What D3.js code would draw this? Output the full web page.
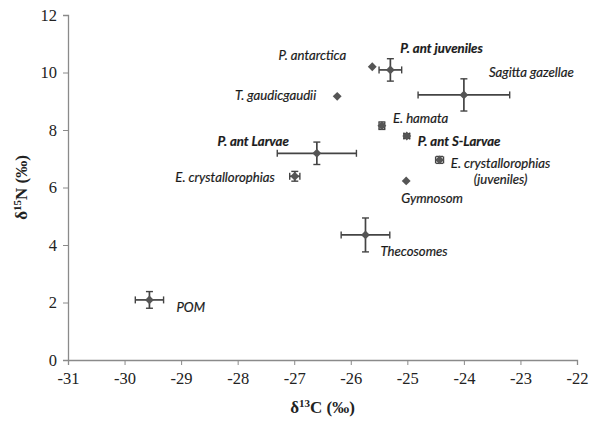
<!DOCTYPE html>
<html>
<head>
<meta charset="utf-8">
<script src="https://cdn.jsdelivr.net/npm/d3@7"></script>
<style>
  body { margin: 0; background: #fff; }
  svg { display: block; }
</style>
</head>
<body>
<div id="chart"></div>
<script>
// taxa + isotope means / SD
const names = ["POM", "Thecosomes", "Sagitta gazellae", "P.  ant juveniles", "P. antarctica",
  "T. gaudicgaudii", "E. hamata", "P. ant S-Larvae", "E. crystallorophias (juveniles)",
  "Gymnosom", "P. ant Larvae", "E. crystallorophias"]
const d13C = [-29.56, -25.74, -24.0, -25.30, -25.62, -26.24, -25.45, -25.01, -24.43, -25.02, -26.60, -26.99]
const d15N = [2.09, 4.35, 9.22, 10.09, 10.2, 9.17, 8.15, 7.79, 6.96, 6.23, 7.19, 6.39]
const sdC = [0.25, 0.43, 0.81, 0.20, 0, 0, 0.05, 0.05, 0.07, 0, 0.70, 0.09]
const sdN = [0.29, 0.59, 0.56, 0.39, 0, 0, 0.13, 0.08, 0.12, 0, 0.39, 0.17]
const boldLabel = [false, false, false, true, false, false, false, true, false, false, true, false]

const xTicks = [-31, -30, -29, -28, -27, -26, -25, -24, -23, -22]
const yTicks = [0, 2, 4, 6, 8, 10, 12]

// label placement relative to the marker (px)
const labelPos = {
  "POM": {dx: 27, dy: 12, anchor: "start"},
  "Thecosomes": {dx: 15, dy: 21, anchor: "start"},
  "Sagitta gazellae": {dx: 25, dy: -18, anchor: "start"},
  "P.  ant juveniles": {dx: 10, dy: -17, anchor: "start"},
  "P. antarctica": {dx: -26, dy: -7, anchor: "end"},
  "T. gaudicgaudii": {dx: -21, dy: 4, anchor: "end"},
  "E. hamata": {dx: 11, dy: -3, anchor: "start"},
  "P. ant S-Larvae": {dx: 11, dy: 10, anchor: "start"},
  "E. crystallorophias (juveniles)": {dx: 61, dy: 8, anchor: "middle"},
  "Gymnosom": {dx: -5, dy: 22, anchor: "start"},
  "P. ant Larvae": {dx: -28, dy: -7, anchor: "end"},
  "E. crystallorophias": {dx: -20, dy: 6, anchor: "end"}
}

const width = 603, height = 421
const margin = {left: 68, right: 26, top: 15, bottom: 61}

const svg = d3.select("#chart").append("svg")
  .attr("width", width)
  .attr("height", height)

const x = d3.scaleLinear().domain([-31, -22]).range([margin.left, width - margin.right])
const y = d3.scaleLinear().domain([0, 12]).range([height - margin.bottom, margin.top])

const axisColor = "#8a8a8a"
const serif = "'Liberation Serif', 'Times New Roman', serif"

// axes
const xAxis = svg.append("g")
  .attr("transform", `translate(0,${y(0)})`)
  .call(d3.axisBottom(x).tickValues(xTicks).tickSize(5).tickPadding(7).tickFormat(d3.format("d")))
const yAxis = svg.append("g")
  .attr("transform", `translate(${x(-31)},0)`)
  .call(d3.axisLeft(y).tickValues(yTicks).tickSize(5).tickPadding(6).tickFormat(d3.format("d")))

;[xAxis, yAxis].forEach(a => {
  a.select(".domain").attr("stroke", axisColor).attr("stroke-width", 1.3)
  a.selectAll(".tick line").attr("stroke", axisColor).attr("stroke-width", 1)
  a.selectAll(".tick text")
    .attr("fill", "#222")
    .attr("font-family", serif)
    .attr("font-size", 16.5)
})
xAxis.selectAll(".tick text").text(d => d < 0 ? "-" + Math.abs(d) : d)

// axis titles
svg.append("text")
  .attr("x", (x(-31) + x(-22)) / 2)
  .attr("y", 413)
  .attr("text-anchor", "middle")
  .attr("font-family", serif)
  .attr("font-weight", "bold")
  .attr("font-size", 17)
  .attr("fill", "#222")
  .html("δ<tspan font-size='11' dy='-6'>13</tspan><tspan dy='6'>C (‰)</tspan>")

svg.append("text")
  .attr("transform", `translate(27,${(y(0) + y(12)) / 2}) rotate(-90)`)
  .attr("text-anchor", "middle")
  .attr("font-family", serif)
  .attr("font-weight", "bold")
  .attr("font-size", 17)
  .attr("fill", "#222")
  .html("δ<tspan font-size='11' dy='-6'>15</tspan><tspan dy='6'>N (‰)</tspan>")

const points = names.map((n, i) => ({name: n, cx: d13C[i], cy: d15N[i], ex: sdC[i], ey: sdN[i], bold: boldLabel[i]}))

const errColor = "#444"
const cap = 3.5
const g = svg.append("g")

// horizontal error bars
const withErr = points.filter(d => d.ex > 0 || d.ey > 0)
g.selectAll("line.ex").data(withErr).join("line")
  .attr("x1", d => x(d.cx - d.ex)).attr("x2", d => x(d.cx + d.ex))
  .attr("y1", d => y(d.cy)).attr("y2", d => y(d.cy))
  .attr("stroke", errColor).attr("stroke-width", 1.7)
g.selectAll("line.exc1").data(withErr).join("line")
  .attr("x1", d => x(d.cx - d.ex)).attr("x2", d => x(d.cx - d.ex))
  .attr("y1", d => y(d.cy) - cap).attr("y2", d => y(d.cy) + cap)
  .attr("stroke", errColor).attr("stroke-width", 1.4)
g.selectAll("line.exc2").data(withErr).join("line")
  .attr("x1", d => x(d.cx + d.ex)).attr("x2", d => x(d.cx + d.ex))
  .attr("y1", d => y(d.cy) - cap).attr("y2", d => y(d.cy) + cap)
  .attr("stroke", errColor).attr("stroke-width", 1.4)
// vertical error bars
g.selectAll("line.ey").data(withErr).join("line")
  .attr("x1", d => x(d.cx)).attr("x2", d => x(d.cx))
  .attr("y1", d => y(d.cy - d.ey)).attr("y2", d => y(d.cy + d.ey))
  .attr("stroke", errColor).attr("stroke-width", 1.7)
g.selectAll("line.eyc1").data(withErr).join("line")
  .attr("x1", d => x(d.cx) - cap).attr("x2", d => x(d.cx) + cap)
  .attr("y1", d => y(d.cy - d.ey)).attr("y2", d => y(d.cy - d.ey))
  .attr("stroke", errColor).attr("stroke-width", 1.4)
g.selectAll("line.eyc2").data(withErr).join("line")
  .attr("x1", d => x(d.cx) - cap).attr("x2", d => x(d.cx) + cap)
  .attr("y1", d => y(d.cy + d.ey)).attr("y2", d => y(d.cy + d.ey))
  .attr("stroke", errColor).attr("stroke-width", 1.4)

// diamond markers
g.selectAll("path.pt").data(points).join("path")
  .attr("class", "pt")
  .attr("transform", d => `translate(${x(d.cx)},${y(d.cy)})`)
  .attr("d", d3.symbol(d3.symbolDiamond2, 50))
  .attr("fill", "#555")

// labels
const lab = g.selectAll("text.lab").data(points).join("text")
  .attr("class", "lab")
  .attr("x", d => x(d.cx) + labelPos[d.name].dx)
  .attr("y", d => y(d.cy) + labelPos[d.name].dy)
  .attr("text-anchor", d => labelPos[d.name].anchor)
  .attr("font-family", "Lato, 'Open Sans', sans-serif")
  .attr("font-style", "italic")
  .attr("font-weight", d => d.bold ? "bold" : "normal")
  .attr("font-size", 13.2)
  .attr("fill", "#1a1a1a")
  .attr("stroke", "#1a1a1a")
  .attr("stroke-width", 0.2)

lab.each(function(d) {
  const t = d3.select(this)
  const m = d.name.match(/^(.*) (\(.*\))$/)
  if (m) {
    t.append("tspan").attr("x", t.attr("x")).text(m[1])
    t.append("tspan").attr("x", t.attr("x")).attr("dy", 16).text(m[2])
  } else {
    t.text(d.name)
  }
})
</script>
</body>
</html>
